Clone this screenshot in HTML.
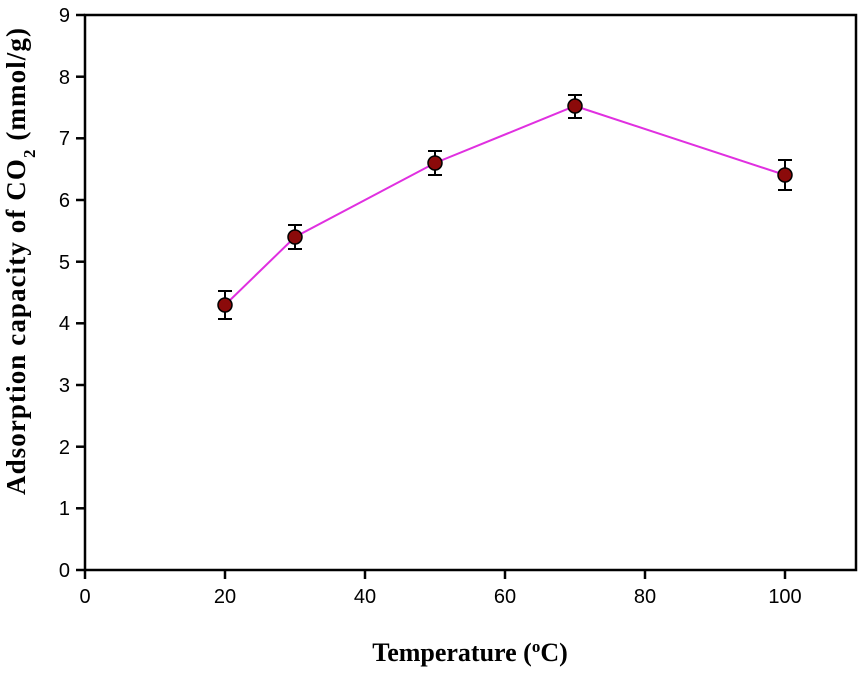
<!DOCTYPE html>
<html><head><style>body{margin:0;background:#fff}</style></head><body>
<svg width="860" height="671" xmlns="http://www.w3.org/2000/svg">
<rect width="860" height="671" fill="#fff"/>
<rect x="85" y="15" width="771" height="555" fill="none" stroke="#000" stroke-width="2.5"/>
<g stroke="#000" stroke-width="2.5">
<line x1="85" y1="570" x2="85" y2="579"/><line x1="225" y1="570" x2="225" y2="579"/><line x1="365" y1="570" x2="365" y2="579"/><line x1="505" y1="570" x2="505" y2="579"/><line x1="645" y1="570" x2="645" y2="579"/><line x1="785" y1="570" x2="785" y2="579"/>
<line x1="76" y1="570" x2="85" y2="570"/><line x1="76" y1="508.3" x2="85" y2="508.3"/><line x1="76" y1="446.7" x2="85" y2="446.7"/><line x1="76" y1="385" x2="85" y2="385"/><line x1="76" y1="323.3" x2="85" y2="323.3"/><line x1="76" y1="261.7" x2="85" y2="261.7"/><line x1="76" y1="200" x2="85" y2="200"/><line x1="76" y1="138.3" x2="85" y2="138.3"/><line x1="76" y1="76.7" x2="85" y2="76.7"/><line x1="76" y1="15" x2="85" y2="15"/>
</g>
<g font-family="Liberation Sans, sans-serif" font-size="20" text-anchor="middle">
<text x="85" y="603">0</text><text x="225" y="603">20</text><text x="365" y="603">40</text><text x="505" y="603">60</text><text x="645" y="603">80</text><text x="785" y="603">100</text>
</g>
<g font-family="Liberation Sans, sans-serif" font-size="20" text-anchor="end">
<text x="70" y="577">0</text><text x="70" y="515">1</text><text x="70" y="454">2</text><text x="70" y="392">3</text><text x="70" y="330">4</text><text x="70" y="269">5</text><text x="70" y="207">6</text><text x="70" y="145">7</text><text x="70" y="84">8</text><text x="70" y="22">9</text>
</g>
<text x="470" y="661" font-family="Liberation Serif, serif" font-weight="bold" font-size="26" text-anchor="middle">Temperature (<tspan baseline-shift="super" font-size="17">o</tspan>C)</text>
<text transform="translate(25,495) rotate(-90)" font-family="Liberation Serif, serif" font-weight="bold" font-size="27" textLength="467" lengthAdjust="spacing">Adsorption capacity of CO<tspan baseline-shift="sub" font-size="17">2</tspan> (mmol/g)</text>
<polyline points="225,305 295,237 435,163 575,106 785,175" fill="none" stroke="#e030e0" stroke-width="2"/>
<g stroke="#000" stroke-width="2">
<line x1="225" y1="291" x2="225" y2="319"/><line x1="218" y1="291" x2="232" y2="291"/><line x1="218" y1="319" x2="232" y2="319"/>
<line x1="295" y1="225" x2="295" y2="249"/><line x1="288" y1="225" x2="302" y2="225"/><line x1="288" y1="249" x2="302" y2="249"/>
<line x1="435" y1="151" x2="435" y2="175"/><line x1="428" y1="151" x2="442" y2="151"/><line x1="428" y1="175" x2="442" y2="175"/>
<line x1="575" y1="95" x2="575" y2="118"/><line x1="568" y1="95" x2="582" y2="95"/><line x1="568" y1="118" x2="582" y2="118"/>
<line x1="785" y1="160" x2="785" y2="190"/><line x1="778" y1="160" x2="792" y2="160"/><line x1="778" y1="190" x2="792" y2="190"/>
</g>
<g fill="#8b0a0a" stroke="#000" stroke-width="1.5">
<circle cx="225" cy="305" r="7"/><circle cx="295" cy="237" r="7"/><circle cx="435" cy="163" r="7"/><circle cx="575" cy="106" r="7"/><circle cx="785" cy="175" r="7"/>
</g>
</svg>
</body></html>
